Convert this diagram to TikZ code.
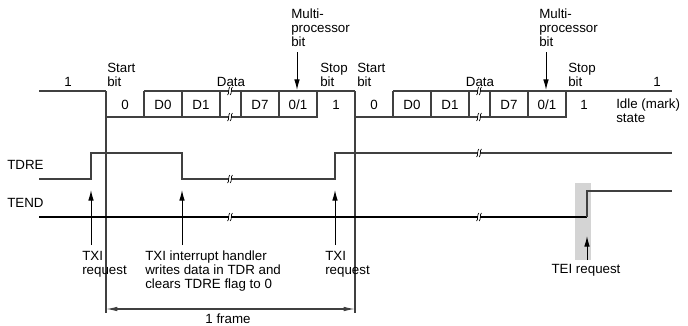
\documentclass[tikz,border=0pt]{standalone}
\usepackage{fontspec}
\setmainfont{Liberation Sans}
\usetikzlibrary{arrows.meta}
\begin{document}
\begin{tikzpicture}[x=0.75pt,y=-0.75pt,
  lbl/.style={font=\fontsize{10}{10.5}\selectfont, inner sep=0pt, align=left, anchor=base west},
  ctr/.style={font=\fontsize{10}{10.5}\selectfont, inner sep=0pt, anchor=base},
  wave/.style={line width=0.8pt, draw=black!75, line join=miter},
  tendw/.style={line width=0.8pt, draw=black},
  arr/.style={line width=0.75pt, -{Latex[length=8pt,width=4.2pt]}},
  brk/.pic={
    \fill[white] (-1.3,-1.6) rectangle (1.3,1.6);
    \draw[line width=0.5pt] (-0.1,-4) .. controls (-2.1,-3) and (-0.5,3) .. (-2.5,4);
    \draw[line width=0.5pt] (2.5,-4) .. controls (0.5,-3) and (2.1,3) .. (0.1,4);
  }
]
\useasboundingbox (0,0) rectangle (688,325);

% ---- serial data waveform, frame 1
\draw[wave] (39,91) -- (106,91);
\draw[wave] (106,117) -- (317,117) -- (317,91) -- (355,91);
\draw[wave] (144,91) -- (317,91);
\foreach \x in {144,182,220,241,279} \draw[wave] (\x,91) -- (\x,117);
% ---- frame 2
\draw[wave] (355,117) -- (566,117) -- (566,91) -- (672,91);
\draw[wave] (393,91) -- (566,91);
\foreach \x in {393,431,469,490,528} \draw[wave] (\x,91) -- (\x,117);
% ---- frame limits
\draw[wave] (106,91) -- (106,313);
\draw[wave] (355,91) -- (355,313);

% ---- TDRE
\draw[wave] (39,179) -| (91,153) -| (182,179) -| (335,153) -- (672,153);
% ---- TEND
\fill[black!17] (575,183) rectangle (591,260);
\draw[tendw] (39,217) -- (587,217);
\draw[wave] (587,217) |- (672,191);

% ---- breaks
\foreach \p in {(230,91),(230,117),(230,179),(230,217),(479,91),(479,117),(479,153),(479,217)}
  \pic at \p {brk};

% ---- labels top (base anchor = baseline of last line)
\node[lbl] (mp1) at (291,46) {Multi-\\processor\\bit};
\node[lbl] (mp2) at (539,46) {Multi-\\processor\\bit};
\coordinate (mp1a) at (297,52);
\coordinate (mp1b) at (297,90);
\coordinate (mp2a) at (546,52);
\coordinate (mp2b) at (546,90);
\draw[arr] (mp1a) -- (mp1b);
\draw[arr] (mp2a) -- (mp2b);

\node[ctr] (one1) at (68,86.8) {1};
\node[lbl] (sb1) at (107,86.8) {Start\\bit};
\node[ctr] (data1) at (231,86.8) {Data};
\node[lbl] (stop1) at (320,86.8) {Stop\\bit};
\node[lbl] (sb2) at (357,86.8) {Start\\bit};
\node[ctr] (data2) at (480,86.8) {Data};
\node[lbl] (stop2) at (568,86.8) {Stop\\bit};
\node[ctr] (one2) at (657,86.8) {1};

% ---- cell contents
\node[ctr] (c10) at (125,109.5) {0};
\node[ctr] (c1a) at (163,109.5) {D0};
\node[ctr] (c1b) at (201,109.5) {D1};
\node[ctr] (c1c) at (260,109.5) {D7};
\node[ctr] (c1d) at (298,109.5) {0/1};
\node[ctr] (c1e) at (336,109.5) {1};
\node[ctr] (c20) at (374,109.5) {0};
\node[ctr] (c2a) at (412,109.5) {D0};
\node[ctr] (c2b) at (450,109.5) {D1};
\node[ctr] (c2c) at (509,109.5) {D7};
\node[ctr] (c2d) at (547,109.5) {0/1};
\node[ctr] (c2e) at (584,109.5) {1};
\node[lbl] (idle) at (616,122.5) {Idle (mark)\\state};

% ---- signal names
\node[lbl] (tdre) at (7,169.8) {TDRE};
\node[lbl] (tend) at (7,207.8) {TEND};

% ---- interrupt arrows
\coordinate (t1a) at (91,245);  \coordinate (t1b) at (91,190);
\coordinate (t2a) at (182,245); \coordinate (t2b) at (182,190);
\coordinate (t3a) at (335,245); \coordinate (t3b) at (335,190);
\coordinate (tea) at (587,260); \coordinate (teb) at (587,236);
\draw[arr] (t1a) -- (t1b);
\draw[arr] (t2a) -- (t2b);
\draw[arr] (t3a) -- (t3b);
\draw[arr] (tea) -- (teb);

\node[lbl] (txi1) at (82,274.8) {TXI\\request};
\node[lbl] (hdl) at (145,288.8) {TXI interrupt handler\\writes data in TDR and\\clears TDRE flag to 0};
\node[lbl] (txi2) at (325,274.8) {TXI\\request};
\node[ctr] (tei) at (586,273.3) {TEI request};

% ---- 1 frame
\coordinate (fa) at (106,309);
\coordinate (fb) at (355,309);
\draw[line width=0.8pt, black!75, {Latex[length=8.5pt,width=3.4pt]}-{Latex[length=8.5pt,width=3.4pt]}] (fa) -- (fb);
\node[ctr] (frm) at (228,323.5) {1 frame};
\end{tikzpicture}
\end{document}
